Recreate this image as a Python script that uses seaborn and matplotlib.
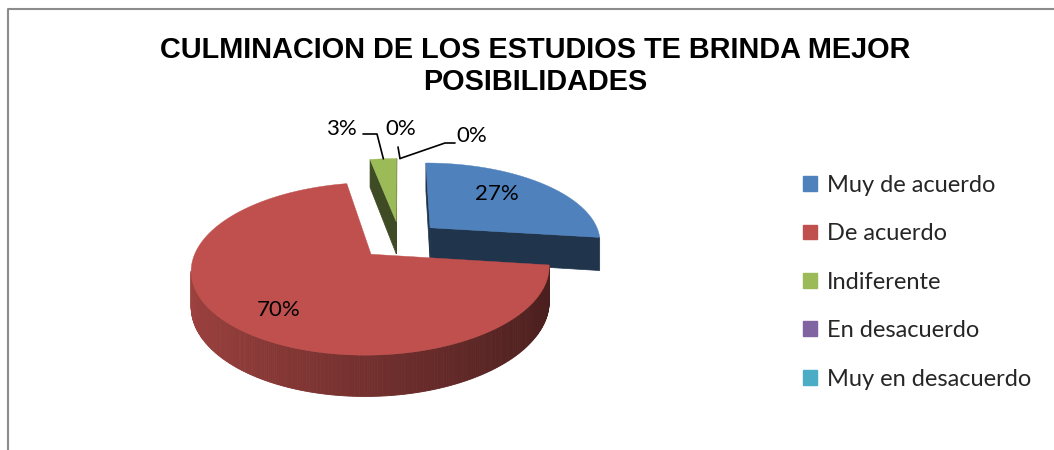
import numpy as np
import matplotlib
matplotlib.use("Agg")
import matplotlib.pyplot as plt
from matplotlib.patches import Polygon, Patch
import seaborn as sns

# ---- data ----
categories = ["Muy de acuerdo", "De acuerdo", "Indiferente", "En desacuerdo", "Muy en desacuerdo"]
percentages = [27, 70, 3, 0, 0]
pct_labels = ["27%", "70%", "3%", "0%", "0%"]
title = "CULMINACION DE LOS ESTUDIOS TE BRINDA MEJOR\nPOSIBILIDADES"

sns.set_theme(style="white")
colors = sns.color_palette(["#4F81BD", "#C0504D", "#9BBB59", "#8064A2", "#4BACC6"])
LABEL_FONT = ["Lato", "DejaVu Sans"]

fig = plt.figure(figsize=(10.54, 4.5), dpi=100)
ax = fig.add_axes([0, 0, 1, 1])
ax.set_xlim(0, 1054)
ax.set_ylim(450, 0)
ax.axis("off")

# ---- 3D perspective pie parameters (style) ----
PHI = np.radians(27.5)
DIST = 5.4
FOC = 925
CX, CY = 400, 240
THICK_K = 180      # on-screen thickness = THICK_K / depth
EXPLODE = 0.24
S, C = np.sin(PHI), np.cos(PHI)


def proj(x, z):
    ys = -z * S
    d = DIST - z * C
    return np.array([CX + FOC * x / d, CY - FOC * ys / d, d])


def depth(x, z):
    return DIST - z * C


def shade(col, f):
    return tuple(min(1, max(0, v * f)) for v in col)


def xy(p):
    return (p[0], p[1])


def down(p):
    return (p[0], p[1] + THICK_K / p[2])


total = float(sum(percentages))
fracs = [v / total for v in percentages]
starts = np.cumsum([0] + fracs[:-1]) * 2 * np.pi
ends = starts + np.array(fracs) * 2 * np.pi

slices = []
for i, (t1, t2) in enumerate(zip(starts, ends)):
    mid = (t1 + t2) / 2
    ex, ez = EXPLODE * np.sin(mid), -EXPLODE * np.cos(mid)
    slices.append((i, t1, t2, mid, ex, ez))


def rim(a, ex, ez, r=1.0):
    return proj(ex + r * np.sin(a), ez - r * np.cos(a))


def above_line(p, a, b):
    # True if point p lies above (smaller y) the line a-b on screen
    if abs(b[0] - a[0]) < 1e-6:
        return False
    yl = a[1] + (b[1] - a[1]) * (p[0] - a[0]) / (b[0] - a[0])
    return p[1] < yl


order = sorted([s for s in slices if percentages[s[0]] > 0],
               key=lambda s: -depth(s[4] + 0.5 * np.sin(s[3]), s[5] - 0.5 * np.cos(s[3])))

z = 1
for (i, t1, t2, mid, ex, ez) in order:
    col = colors[i]
    n = max(3, int(np.degrees(t2 - t1) * 1.5))
    arc = np.linspace(t1, t2, n)
    apex = proj(ex, ez)
    inner = rim(mid, ex, ez, 0.5)
    # radial faces (visible when the slice top lies above the edge)
    for a in (t1, t2):
        r = rim(a, ex, ez)
        if above_line(inner, apex, r):
            pts = [xy(apex), xy(r), down(r), down(apex)]
            ax.add_patch(Polygon(pts, closed=True, facecolor=shade(col, 0.4),
                                 edgecolor=shade(col, 0.4), lw=0.5, zorder=z))
    z += 1
    # outer side (visible on the front half where the rim runs right-to-left)
    for a0, a1 in zip(arc[:-1], arc[1:]):
        p0, p1 = rim(a0, ex, ez), rim(a1, ex, ez)
        if p1[0] < p0[0]:
            am = (a0 + a1) / 2
            f = 0.6 - 0.22 * np.sin(am)
            pts = [xy(p0), xy(p1), down(p1), down(p0)]
            ax.add_patch(Polygon(pts, closed=True, facecolor=shade(col, f),
                                 edgecolor=shade(col, f), lw=0.6, zorder=z))
    z += 1
    # top face
    pts = [xy(apex)] + [xy(rim(a, ex, ez)) for a in arc]
    ax.add_patch(Polygon(pts, closed=True, facecolor=col, edgecolor=col, lw=0.3, zorder=z))
    z += 1

# ---- data labels ----
inside_r = {0: 0.6, 1: 0.7}
inside_shift = {0: (-2, -6), 1: (3, 9)}
outside_text = {2: (341, 129), 3: (401, 129), 4: (472, 136)}
outside_elbow = {2: [(377, 134), (363, 134)], 3: [(398, 147)], 4: [(445, 143), (455, 143)]}
for (i, t1, t2, mid, ex, ez) in slices:
    if i in inside_r:
        x, y, _ = rim(mid, ex, ez, inside_r[i])
        dx, dy = inside_shift[i]
        ax.text(x + dx, y + dy, pct_labels[i], ha="center", va="center", fontsize=16,
                family=LABEL_FONT, color="black", zorder=50)
    else:
        p = rim(mid, ex, ez, 1.0)
        pts = [xy(p)] + outside_elbow[i]
        ax.plot([q[0] for q in pts], [q[1] for q in pts], color="black", lw=1.2, zorder=50)
        tx, ty = outside_text[i]
        ax.text(tx, ty, pct_labels[i], ha="center", va="center", fontsize=16,
                family=LABEL_FONT, color="black", zorder=50)

# ---- title ----
ax.text(535, 66, title, ha="center", va="center", fontsize=20.8, fontweight="bold",
        family=["Liberation Sans", "DejaVu Sans"], linespacing=1.22, color="black")

# ---- legend ----
handles = [Patch(facecolor=c, edgecolor=c) for c in colors]
leg = ax.legend(handles, categories, loc="upper left", bbox_to_anchor=(803 / 1054, 1 - 175 / 450),
                bbox_transform=fig.transFigure, frameon=False, prop={"family": LABEL_FONT, "size": 17},
                handlelength=0.59, handleheight=0.59, handletextpad=0.42, labelspacing=1.16,
                borderaxespad=0, borderpad=0)

# ---- chart border ----
ax.plot([8, 8, 1070], [460, 9, 9], color="#8c8c8c", lw=1.5, clip_on=False)

fig.savefig("out.png", dpi=100)
